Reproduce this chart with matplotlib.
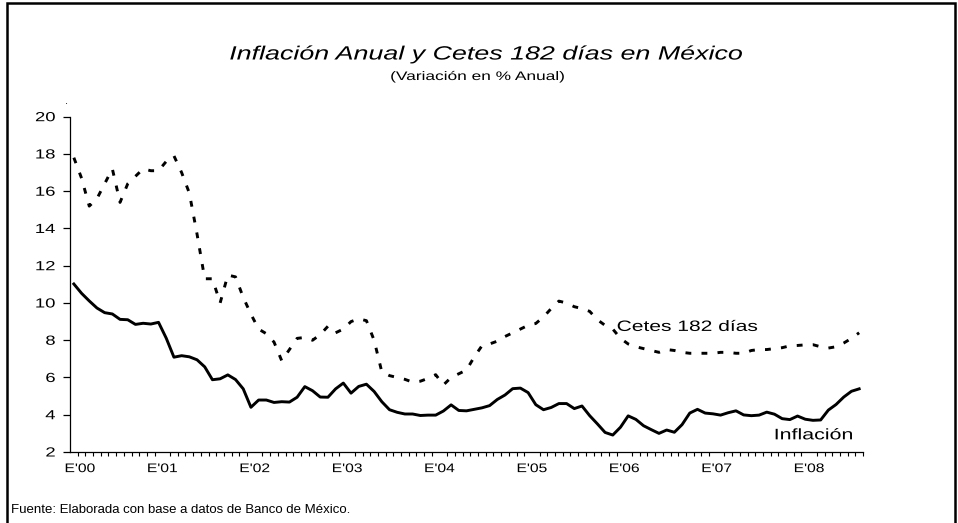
import matplotlib
matplotlib.use("Agg")
import matplotlib.pyplot as plt
from matplotlib.ticker import FixedLocator, NullFormatter
from matplotlib.patches import Rectangle
from matplotlib.patheffects import AbstractPathEffect
from matplotlib.transforms import Affine2D, ScaledTranslation

plt.rcParams['font.family'] = ['Liberation Sans', 'DejaVu Sans']

title = "Inflación Anual y Cetes 182 días en México"
subtitle = "(Variación en % Anual)"
source = "Fuente: Elaborada con base a datos de Banco de México."
label_cetes = "Cetes 182 días"
label_infl = "Inflación"

year_labels = ["E'00", "E'01", "E'02", "E'03", "E'04", "E'05", "E'06", "E'07", "E'08"]
y_ticks = [2, 4, 6, 8, 10, 12, 14, 16, 18, 20]

# Monthly values, Jan 2000 - Jul 2008
inflacion = [
    11.02, 10.52, 10.11, 9.73, 9.48, 9.41, 9.12, 9.10, 8.85, 8.91, 8.87, 8.96,
    8.11, 7.09, 7.17, 7.11, 6.95, 6.57, 5.88, 5.93, 6.14, 5.89, 5.39, 4.40,
    4.79, 4.79, 4.66, 4.70, 4.68, 4.94, 5.51, 5.29, 4.95, 4.94, 5.39, 5.70,
    5.16, 5.52, 5.64, 5.25, 4.70, 4.27, 4.13, 4.04, 4.04, 3.96, 3.98, 3.98,
    4.20, 4.53, 4.23, 4.21, 4.29, 4.37, 4.49, 4.82, 5.06, 5.40, 5.43, 5.19,
    4.54, 4.27, 4.39, 4.60, 4.60, 4.33, 4.47, 3.95, 3.51, 3.05, 2.91, 3.33,
    3.94, 3.75, 3.41, 3.20, 3.00, 3.18, 3.06, 3.47, 4.09, 4.29, 4.09, 4.05,
    3.98, 4.11, 4.21, 3.99, 3.95, 3.98, 4.14, 4.03, 3.79, 3.74, 3.93, 3.76,
    3.70, 3.72, 4.25, 4.55, 4.95, 5.26, 5.39,
]

cetes = [
    17.8, 16.7, 15.2, 15.6, 16.4, 17.2, 15.4, 16.4, 16.8, 17.2, 17.1, 17.1,
    17.6, 17.9, 17.0, 15.9, 13.7, 11.3, 11.3, 10.0, 11.5, 11.4, 10.3, 9.4,
    8.6, 8.35, 7.9, 6.9, 7.5, 8.1, 8.15, 8.0, 8.3, 8.75, 8.4, 8.6,
    9.0, 9.15, 9.05, 8.0, 6.3, 6.1, 6.0, 5.9, 5.75, 5.8, 5.95, 6.15,
    5.6, 6.0, 6.2, 6.4, 7.1, 7.7, 7.8, 7.95, 8.2, 8.4, 8.6, 8.8,
    8.9, 9.25, 9.7, 10.1, 10.0, 9.8, 9.7, 9.55, 9.1, 8.8, 8.6, 8.1,
    7.8, 7.65, 7.55, 7.45, 7.35, 7.5, 7.45, 7.35, 7.3, 7.3, 7.3, 7.3,
    7.35, 7.35, 7.3, 7.3, 7.45, 7.5, 7.5, 7.55, 7.6, 7.7, 7.72, 7.75,
    7.76, 7.65, 7.58, 7.65, 7.85, 8.1, 8.4,
]


class Stretch(AbstractPathEffect):
    """Draw text glyphs stretched horizontally (the reference chart is wide)."""

    def __init__(self, sx, anchor='left'):
        super().__init__()
        self.sx = sx
        self.anchor = anchor

    def draw_path(self, renderer, gc, tpath, affine, rgbFace=None):
        ext = tpath.get_extents()
        if self.anchor == 'right':
            px = ext.x1
        elif self.anchor == 'center':
            px = 0.5 * (ext.x0 + ext.x1)
        else:
            px = 0.0
        t = Affine2D().translate(-px, 0).scale(self.sx, 1.0).translate(px, 0) + affine
        renderer.draw_path(gc, tpath, t, rgbFace)


SX = 1.4

n = len(inflacion)
months = list(range(n))

W, H = 958, 523
fig = plt.figure(figsize=(W / 100, H / 100), dpi=100)

# outer frame
fig.patches.append(Rectangle((7 / W, -0.05), (955 - 7) / W, (1 - 3 / H) + 0.05,
                             transform=fig.transFigure, fill=False,
                             edgecolor='black', linewidth=1.8))

ax = fig.add_axes([70 / W, 1 - 452 / H, (863 - 70) / W, (452 - 116.7) / H])

ax.plot(months, inflacion, color='black', linewidth=2.1, solid_joinstyle='round')
ax.plot(months, cetes, color='black', linewidth=2.1,
        linestyle=(0, (2.0, 3.5)), dash_capstyle='butt')

ax.set_xlim(-0.5, n - 0.5)
ax.set_ylim(2, 20)

for s in ['top', 'right']:
    ax.spines[s].set_visible(False)
for s in ['left', 'bottom']:
    ax.spines[s].set_linewidth(0.9)

ax.set_yticks(y_ticks)
ax.set_yticklabels([str(v) for v in y_ticks])
ax.tick_params(axis='y', direction='out', length=5, width=0.9, pad=5.5,
               labelsize=9.5, colors='black')

ax.set_xticks([12 * k - 0.5 for k in range(len(year_labels))])
ax.set_xticklabels(year_labels)
ax.xaxis.set_minor_locator(FixedLocator([i - 0.5 for i in range(n + 1)]))
ax.xaxis.set_minor_formatter(NullFormatter())
ax.tick_params(axis='x', which='major', length=0, pad=8, labelsize=9)
ax.tick_params(axis='x', which='minor', direction='out', length=3, width=0.8)

for lab in ax.get_yticklabels():
    lab.set_path_effects([Stretch(SX, 'right')])
xlabs = ax.get_xticklabels()
for lab in xlabs:
    lab.set_path_effects([Stretch(1.25, 'center')])
# first year label is pushed inside the axis, as in the reference
xlabs[0].set_transform(xlabs[0].get_transform() +
                       ScaledTranslation(10 / 100, 0, fig.dpi_scale_trans))

ax.text(70.5, 8.5, label_cetes, fontsize=10.8, ha='left', va='baseline',
        path_effects=[Stretch(SX, 'left')])
ax.text(90.9, 2.68, label_infl, fontsize=11, ha='left', va='baseline',
        path_effects=[Stretch(SX, 'left')])

fig.text(486 / W, 1 - 55 / H, title, fontsize=13.8, style='italic',
         ha='center', va='center', path_effects=[Stretch(SX, 'center')])
fig.text(478 / W, 1 - 77 / H, subtitle, fontsize=8.9, ha='center', va='center',
         path_effects=[Stretch(SX, 'center')])
fig.text(11 / W, 1 - 510 / H, source, fontsize=9.5, ha='left', va='center')
fig.text(66 / W, 1 - 101 / H, ".", fontsize=8, ha='center', va='center')

fig.savefig("out.png", dpi=100)
